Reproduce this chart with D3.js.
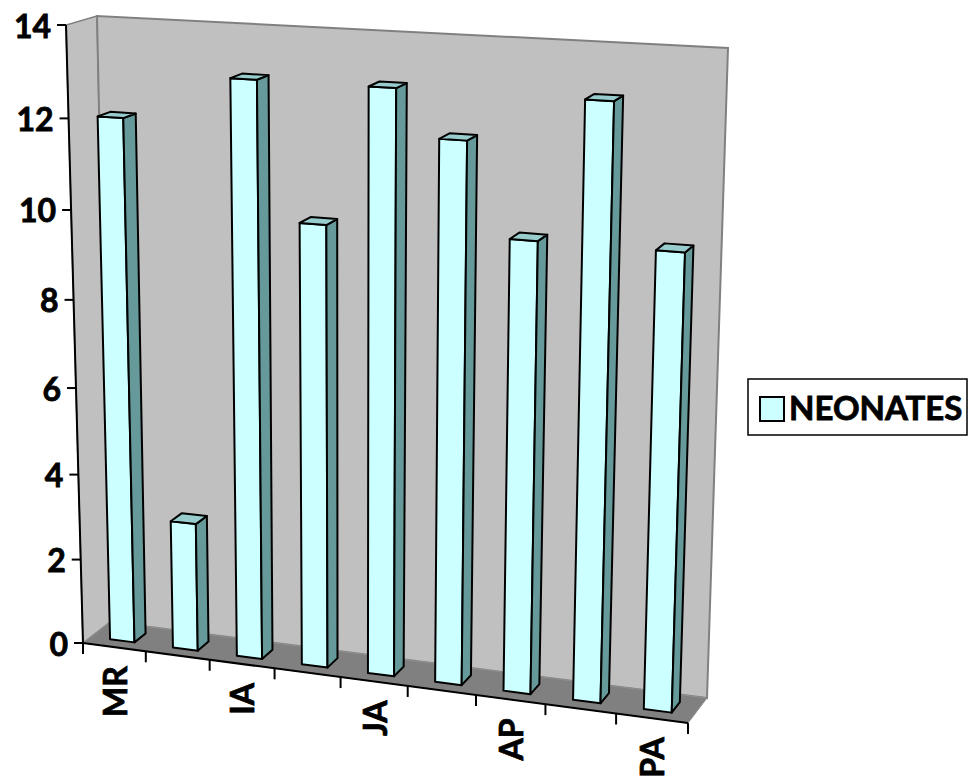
<!DOCTYPE html>
<html>
<head>
<meta charset="utf-8">
<script src="https://cdn.jsdelivr.net/npm/d3@7/dist/d3.min.js"></script>
<style>
  body { margin: 0; background: #fff; }
  text { font-family: Lato, 'Open Sans', sans-serif; font-weight: bold; fill: #000; stroke: #000; stroke-width: 0.8px; }
</style>
</head>
<body>
<div id="chart"></div>
<script>
// data (only every other category is labelled)
const categoryLabels = ['MR', '', 'IA', '', 'JA', '', 'AP', '', 'PA']
const neonates = [12, 3, 13, 10, 13, 12, 10, 13, 10]
const seriesName = 'NEONATES'
const yTicks = [0, 2, 4, 6, 8, 10, 12, 14]

const width = 969
const height = 782

// corners of the 3d box in screen space: F/B = front/back, L/R, B/T = bottom/top
const box = {
  FLB: [83, 643], BLB: [110, 622], FRB: [688, 723], BRB: [707, 698],
  FLT: [66, 25], BLT: [97, 16], FRT: [708, 61], BRT: [728, 48]
}
const lerp = (a, b, t) => [a[0] + (b[0] - a[0]) * t, a[1] + (b[1] - a[1]) * t]
// slight perspective foreshortening along the category and value axes
const warpU = (s) => s / (1 + 0.079 * (1 - s))
const warpV = (t) => t / (1 + 0.068 * (1 - t))

const x = d3.scaleBand().domain(d3.range(neonates.length)).range([0, 1])
  .paddingInner(0.61).paddingOuter(0.305)
const y = d3.scaleLinear().domain([0, 14]).range([0, 1])

// u in [0,1] across, v data value, w in [0,1] front->back
const project = (u, v, w) => {
  const s = warpU(u)
  const t = warpV(y(v))
  const bl = lerp(box.FLB, box.BLB, w)
  const br = lerp(box.FRB, box.BRB, w)
  const tl = lerp(box.FLT, box.BLT, w)
  const tr = lerp(box.FRT, box.BRT, w)
  return lerp(lerp(bl, br, s), lerp(tl, tr, s), t)
}
const poly = (pts) => 'M' + pts.map((p) => p.join(',')).join('L') + 'Z'

const svg = d3.select('#chart').append('svg')
  .attr('width', width).attr('height', height)

// walls and floor
const vMax = y.domain()[1]
svg.append('path')
  .attr('d', poly([project(0, 0, 0), project(0, 0, 1), project(0, vMax, 1), project(0, vMax, 0)]))
  .attr('fill', '#c0c0c0').attr('stroke', '#808080').attr('stroke-width', 1.5)
svg.append('path')
  .attr('d', poly([project(0, 0, 1), project(1, 0, 1), project(1, vMax, 1), project(0, vMax, 1)]))
  .attr('fill', '#c0c0c0').attr('stroke', '#808080').attr('stroke-width', 2)
svg.append('path')
  .attr('d', poly([project(0, 0, 0), project(1, 0, 0), project(1, 0, 1), project(0, 0, 1)]))
  .attr('fill', '#808080').attr('stroke', '#909090').attr('stroke-width', 1)

// bars
const w0 = 0.3
const w1 = 0.72
const bars = svg.append('g').selectAll('g')
  .data(neonates.map((v, i) => ({ i, v })))
  .join('g')
  .attr('stroke', '#000').attr('stroke-width', 2).attr('stroke-linejoin', 'round')
bars.append('path')
  .attr('fill', '#ccffff')
  .attr('d', (d) => {
    const uL = x(d.i), uR = x(d.i) + x.bandwidth()
    return poly([project(uL, 0, w0), project(uR, 0, w0), project(uR, d.v, w0), project(uL, d.v, w0)])
  })
bars.append('path')
  .attr('fill', '#669999')
  .attr('d', (d) => {
    const uR = x(d.i) + x.bandwidth()
    return poly([project(uR, 0, w0), project(uR, 0, w1), project(uR, d.v, w1), project(uR, d.v, w0)])
  })
bars.append('path')
  .attr('fill', '#99cccc')
  .attr('d', (d) => {
    const uL = x(d.i), uR = x(d.i) + x.bandwidth()
    return poly([project(uL, d.v, w0), project(uR, d.v, w0), project(uR, d.v, w1), project(uL, d.v, w1)])
  })

// value axis on the front-left edge
const axisY = svg.append('g').attr('stroke', '#000').attr('stroke-width', 2)
axisY.append('path').attr('d', 'M' + project(0, 0, 0) + 'L' + project(0, vMax, 0))
yTicks.forEach((t) => {
  const [px, py] = project(0, t, 0)
  axisY.append('line').attr('x1', px - 9).attr('x2', px).attr('y1', py).attr('y2', py)
  svg.append('text')
    .attr('x', px - 15).attr('y', py)
    .attr('text-anchor', 'end').attr('dominant-baseline', 'central')
    .attr('font-size', 32)
    .text(t)
})

// category axis on the front-bottom edge
const axisX = svg.append('g').attr('stroke', '#000').attr('stroke-width', 2)
axisX.append('path').attr('d', 'M' + project(0, 0, 0) + 'L' + project(1, 0, 0))
d3.range(neonates.length + 1).forEach((j) => {
  const [px, py] = project(j / neonates.length, 0, 0)
  axisX.append('line').attr('x1', px).attr('x2', px).attr('y1', py).attr('y2', py + 11)
})
categoryLabels.forEach((label, i) => {
  if (!label) return
  const [px, py] = project(x(i) + x.bandwidth() / 2, 0, 0)
  svg.append('text')
    .attr('transform', `translate(${px}, ${py + 19}) rotate(-90)`)
    .attr('text-anchor', 'end').attr('dominant-baseline', 'central')
    .attr('font-size', 32)
    .text(label)
})

// legend
const legend = svg.append('g').attr('transform', 'translate(748, 379)')
legend.append('rect').attr('width', 219).attr('height', 56)
  .attr('fill', '#fff').attr('stroke', '#000').attr('stroke-width', 1.5)
legend.append('rect').attr('x', 12).attr('y', 18).attr('width', 24).attr('height', 24)
  .attr('fill', '#ccffff').attr('stroke', '#000').attr('stroke-width', 2)
legend.append('text').attr('x', 41).attr('y', 41).attr('font-size', 33).text(seriesName)
</script>
</body>
</html>
